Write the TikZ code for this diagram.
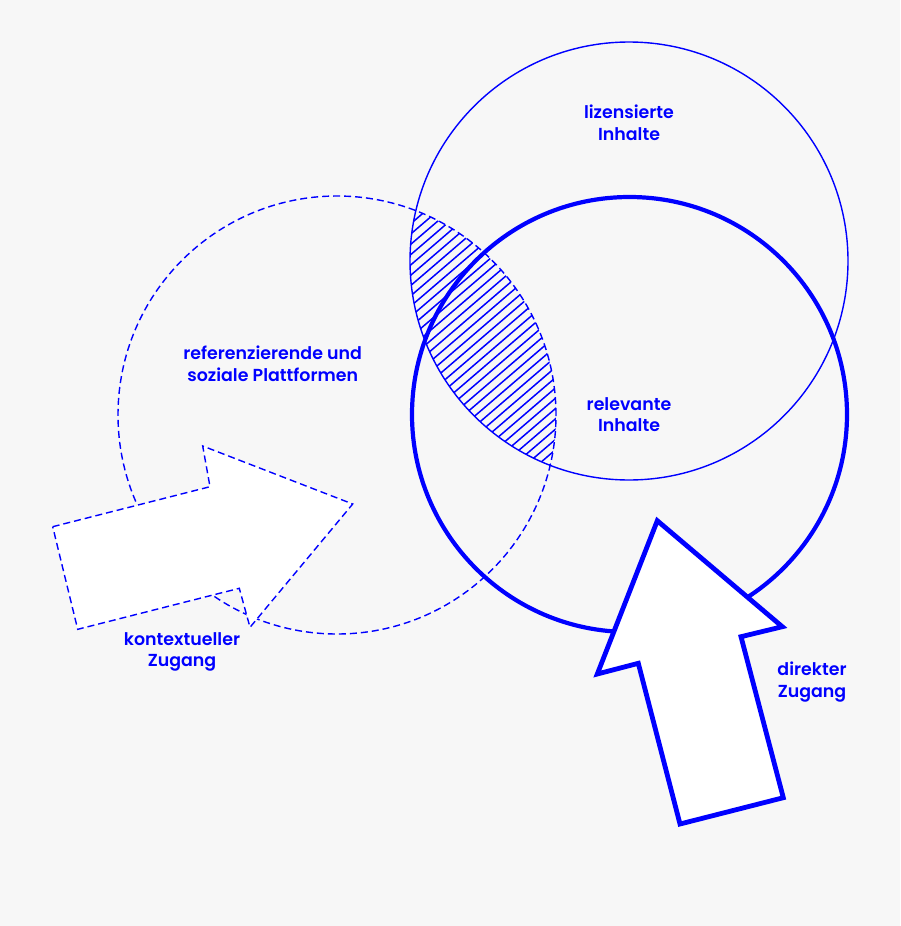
\documentclass[tikz,border=0pt]{standalone}
\usepackage{fontspec}
\newfontfamily\labfont{Poppins SemiBold}
\definecolor{bgc}{HTML}{F7F7F7}
\definecolor{bl}{HTML}{0000FF}
\begin{document}
\begin{tikzpicture}[x=1pt,y=-1pt,
  thinline/.style={draw=bl,line width=1.4pt},
  dashline/.style={draw=bl,line width=1.4pt,dash pattern=on 7pt off 4pt},
  thickline/.style={draw=bl,line width=4.2pt},
  hatchline/.style={draw=bl,line width=1.5pt},
  lab/.style={text=bl,font=\labfont\fontsize{17.4}{21.5}\selectfont,align=center,inner sep=0pt}]
\fill[bgc] (0,0) rectangle (900,926);
\useasboundingbox (0,0) rectangle (900,926);
% hatching
\begin{scope}
  \clip (337,415) circle[radius=219pt];
  \clip (629,261) circle[radius=219pt];
  \foreach \k in {0,...,70} {
    \draw[hatchline] (390,{190+10.3*\k}) -- (580,{190+10.3*\k-163});
  }
\end{scope}
% circles
\draw[thinline] (629,261) circle[radius=219pt];
\draw[dashline] (337,415) circle[radius=219pt];
\draw[thickline] (629.5,414.5) circle[radius=217.5pt];
% contextual arrow
\filldraw[fill=white,dashline,line join=miter]
  (52.7,526.7) -- (210,486.7) -- (202.7,446) -- (352.7,504) -- (250,627.3)
  -- (239.3,588.3) -- (77.7,629.3) -- cycle;
% direct arrow
\filldraw[fill=white,draw=bl,line width=4.8pt,line join=miter]
  (657.3,520.7) -- (782.3,626.7) -- (741,636.7) -- (783.3,797.7)
  -- (680,824) -- (638.3,663.3) -- (597.3,674) -- cycle;
% labels
\node[lab] (tlic) at (629,123) {lizensierte\\Inhalte};
\node[lab] (tref) at (272.7,364) {referenzierende und\\soziale Plattformen};
\node[lab] (trel) at (629,414.5) {relevante\\Inhalte};
\node[lab] (tkon) at (182,652) {kontextueller\\Zugang};
\node[lab] (tdir) at (812,682) {direkter\\Zugang};
\end{tikzpicture}
\end{document}
